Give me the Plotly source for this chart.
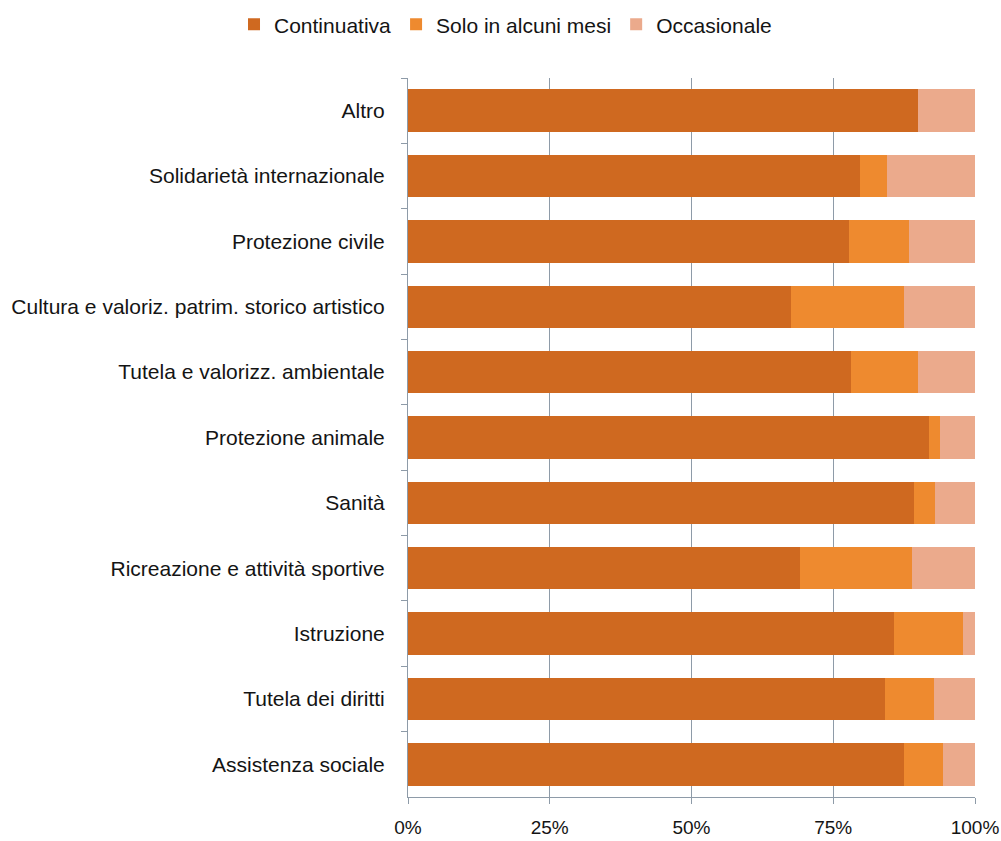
import plotly.graph_objects as go

# Settori di attività (dall'alto verso il basso)
categories = [
    "Altro",
    "Solidarietà internazionale",
    "Protezione civile",
    "Cultura e valoriz. patrim. storico artistico",
    "Tutela e valorizz. ambientale",
    "Protezione animale",
    "Sanità",
    "Ricreazione e attività sportive",
    "Istruzione",
    "Tutela dei diritti",
    "Assistenza sociale",
]

# Quote percentuali per frequenza dell'attività
continuativa = [89.9, 79.7, 77.8, 67.5, 78.2, 91.8, 89.2, 69.2, 85.7, 84.1, 87.4]
solo_alcuni_mesi = [0.0, 4.8, 10.5, 19.9, 11.7, 2.0, 3.8, 19.6, 12.2, 8.6, 7.0]
occasionale = [10.1, 15.5, 11.7, 12.6, 10.1, 6.2, 7.0, 11.2, 2.1, 7.3, 5.6]

series_names = ["Continuativa", "Solo in alcuni mesi", "Occasionale"]
series_colors = ["#CF6920", "#EE8A2F", "#EBAA8C"]

tick_values = [0, 25, 50, 75, 100]
tick_labels = ["0%", "25%", "50%", "75%", "100%"]

font_family = "Liberation Sans, Arial, sans-serif"
axis_color = "#8E9BA8"

fig = go.Figure()
for name, values, color in zip(series_names, [continuativa, solo_alcuni_mesi, occasionale], series_colors):
    fig.add_trace(
        go.Bar(
            name=name,
            y=categories,
            x=values,
            orientation="h",
            marker=dict(color=color, line=dict(width=0)),
        )
    )

fig.update_layout(
    barmode="stack",
    bargap=0.35,
    width=1001,
    height=841,
    margin=dict(l=408, r=26, t=78, b=44, autoexpand=False),
    paper_bgcolor="white",
    plot_bgcolor="white",
    font=dict(family=font_family, size=21, color="#141414"),
    showlegend=True,
    legend=dict(
        orientation="h",
        x=0.505,
        xref="container",
        xanchor="center",
        y=0.995,
        yref="container",
        yanchor="top",
        font=dict(size=21),
        itemwidth=30,
        traceorder="normal",
    ),
    xaxis=dict(
        range=[0, 100],
        tickvals=tick_values,
        ticktext=tick_labels,
        showgrid=True,
        gridcolor=axis_color,
        gridwidth=1,
        showline=True,
        linecolor=axis_color,
        ticks="outside",
        ticklen=6,
        tickcolor=axis_color,
        zeroline=False,
        tickfont=dict(size=19),
        ticklabelstandoff=7,
        automargin=False,
    ),
    yaxis=dict(
        autorange="reversed",
        showline=True,
        linecolor=axis_color,
        ticks="outside",
        tickson="boundaries",
        ticklen=6,
        tickcolor=axis_color,
        showgrid=False,
        tickfont=dict(size=21),
        ticklabelstandoff=18,
        automargin=False,
    ),
)

fig.write_html("out.html")
